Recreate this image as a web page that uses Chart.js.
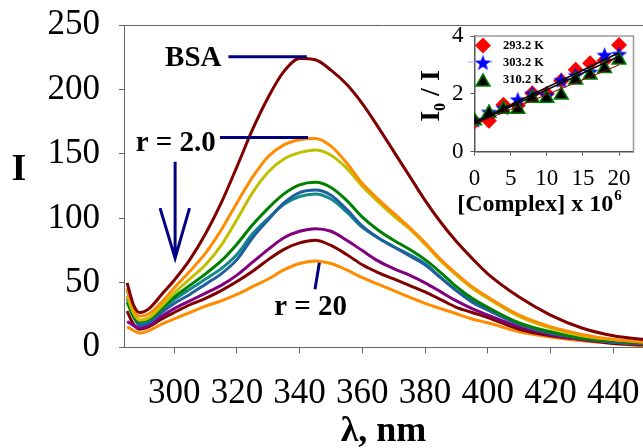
<!DOCTYPE html>
<html>
<head>
<meta charset="utf-8">
<script src="https://cdn.jsdelivr.net/npm/chart.js@4.4.1/dist/chart.umd.min.js"></script>
<style>
html, body { margin: 0; padding: 0; background: #fff; }
#wrap { position: relative; width: 643px; height: 448px; overflow: hidden; }
#main { position: absolute; left: 0; top: 0; }
#inset { position: absolute; left: 400px; top: 16px; }
</style>
</head>
<body>
<div id="wrap">
  <canvas id="main" width="643" height="448"></canvas>
  <canvas id="inset" width="243" height="204"></canvas>
</div>
<script>
// emission spectra, wavelength in nm
var lambda   = [285, 287, 289, 292, 296, 300, 305, 310, 315, 320, 325, 330, 335, 340, 345, 350, 355, 360, 365, 370, 375, 380, 385, 390, 395, 400, 410, 420, 430, 440, 450];
var bsa      = [50, 33, 27, 30, 41, 52, 68, 88, 112, 140, 169, 194, 214, 224, 223, 215, 204, 189, 171, 152, 133, 114, 97, 82, 69, 57, 39, 25, 15, 9, 6];
var r2       = [46, 30, 24, 26, 35, 46, 59, 73, 91, 112, 132, 148, 157, 161, 162, 156, 143, 127, 115, 104, 93, 81, 68, 57, 47, 39, 25, 16, 10, 6, 4];
var rA       = [40, 27, 21, 23, 32, 42, 53, 64, 79, 99, 120, 136, 146, 151, 153, 149, 139, 125, 113, 102, 92, 80, 67, 56, 46, 38, 24, 15, 9, 6, 4];
var rB       = [35, 24, 20, 22, 30, 39, 48, 57, 67, 80, 95, 108, 119, 126, 128, 124, 114, 101, 91, 83, 76, 68, 58, 47, 38, 31, 19, 12, 7, 5, 3];
var rC       = [38, 24, 17, 19, 27, 34, 41, 49, 57, 68, 85, 99, 112, 120, 122, 118, 107, 94, 85, 78, 71, 64, 54, 44, 35, 29, 18, 11, 7, 4, 3];
var rD       = [45, 28, 19, 21, 29, 37, 45, 53, 61, 72, 88, 100, 111, 117, 119, 115, 105, 93, 85, 78, 72, 65, 54, 44, 36, 29, 18, 11, 7, 4, 3];
var rE       = [20, 17, 15, 17, 24, 30, 36, 42, 48, 56, 66, 76, 85, 90, 92, 90, 83, 75, 67, 61, 56, 50, 43, 36, 30, 25, 16, 10, 6, 4, 2];
var rF       = [28, 18, 14, 16, 22, 27, 33, 38, 44, 51, 59, 68, 76, 81, 83, 79, 72, 64, 58, 53, 48, 43, 37, 31, 27, 23, 14, 9, 6, 3, 2];
var r20      = [16, 13, 11, 13, 18, 22, 27, 32, 36, 41, 47, 53, 60, 65, 67, 65, 60, 54, 49, 44, 39, 34, 30, 26, 22, 19, 12, 8, 5, 3, 1];
var xTicks = [300, 320, 340, 360, 380, 400, 420, 440];

// Stern-Volmer inset
var conc  = [0, 2, 4, 6, 8, 10, 12, 14, 16, 18, 20];
var k293  = [1.04, 1.07, 1.62, 1.60, 2.02, 2.00, 2.45, 2.83, 3.06, 3.15, 3.69];
var k303  = [1.10, 1.38, 1.52, 1.81, 2.02, 1.96, 2.48, 2.65, 2.77, 3.35, 3.38];
var k310  = [1.07, 1.33, 1.47, 1.47, 1.85, 1.85, 1.96, 2.48, 2.65, 2.88, 3.17];
var fitX  = [0, 20];
var fit1  = [1.02, 3.42];
var fit2  = [0.98, 3.30];
var fit3  = [0.95, 3.00];
var insetXTicks = [0, 5, 10, 15, 20];

var SERIF = '"Liberation Serif", "Times New Roman", serif';
Chart.defaults.font.family = SERIF;
Chart.defaults.color = '#000';

function pts(xs, ys) {
  return xs.map(function(x, i) { return {x: x, y: ys[i]}; });
}

function spec(data, color) {
  return {
    data: pts(lambda, data),
    borderColor: color,
    borderWidth: 3,
    pointRadius: 0,
    cubicInterpolationMode: 'monotone',
    fill: false
  };
}

// keep chartArea where we put it (no extra label padding)
function noPad(s) { s.paddingTop = 0; s.paddingBottom = 0; s.paddingLeft = 0; s.paddingRight = 0; }

var mainExtras = {
  id: 'mainExtras',
  afterDraw: function(chart) {
    var ctx = chart.ctx, a = chart.chartArea;
    var xs = chart.scales.x, ys = chart.scales.y;
    function px(v) { return xs.getPixelForValue(v); }
    function py(v) { return ys.getPixelForValue(v); }
    ctx.save();
    // top frame line
    ctx.strokeStyle = '#666';
    ctx.lineWidth = 1;
    ctx.beginPath();
    ctx.moveTo(a.left, Math.round(a.top) + 0.5);
    ctx.lineTo(a.right, Math.round(a.top) + 0.5);
    ctx.stroke();

    // labels and pointer lines
    ctx.strokeStyle = '#000080';
    ctx.lineWidth = 3;
    ctx.beginPath();
    ctx.moveTo(px(317.3), py(225.3)); ctx.lineTo(px(342.3), py(225.3));
    ctx.moveTo(px(314.6), py(162.8)); ctx.lineTo(px(342.7), py(162.8));
    ctx.moveTo(px(346.3), py(65.6));  ctx.lineTo(px(344.9), py(45));
    // arrow
    ctx.moveTo(px(300.3), py(143.9)); ctx.lineTo(px(300.3), py(69.2));
    ctx.moveTo(px(295.5), py(108));   ctx.lineTo(px(300.3), py(69.2)); ctx.lineTo(px(304.9), py(108));
    ctx.stroke();

    ctx.fillStyle = '#000';
    ctx.textAlign = 'center';
    ctx.textBaseline = 'middle';
    ctx.font = 'bold 29px ' + SERIF;
    ctx.fillText('BSA', px(306.1), py(224.3));
    ctx.fillText('r = 2.0', px(300.5), py(158.4));
    ctx.fillText('r = 20', px(343.5), py(31.2));

    // axis titles
    ctx.font = 'bold 38px ' + SERIF;
    ctx.fillText('I', 19, 170);
    ctx.font = 'bold 36px ' + SERIF;
    ctx.fillText('\u03bb, nm', (a.left + a.right) / 2, 432);
    ctx.restore();
  }
};

new Chart(document.getElementById('main'), {
  type: 'line',
  data: {
    datasets: [
      spec(bsa, '#800000'),
      spec(r2, '#FF8C00'),
      spec(rA, '#C0C000'),
      spec(rB, '#008000'),
      spec(rC, '#1F5F9F'),
      spec(rD, '#138A8A'),
      spec(rE, '#800080'),
      spec(rF, '#800000'),
      spec(r20, '#FF8C00')
    ]
  },
  options: {
    responsive: false,
    animation: false,
    layout: { padding: { top: 25, right: 0, left: 0, bottom: 0 } },
    plugins: { legend: { display: false }, tooltip: { enabled: false } },
    scales: {
      x: {
        type: 'linear',
        min: 284,
        max: 449.5,
        afterBuildTicks: function(s) { s.ticks = xTicks.map(function(v) { return {value: v}; }); },
        afterFit: function(s) { s.height = 100.7; noPad(s); },
        border: { display: true, color: '#666', width: 1 },
        grid: { drawOnChartArea: false, drawTicks: true, tickLength: 6, color: '#666' },
        ticks: { font: { family: SERIF, size: 35 }, color: '#000', padding: 20, maxRotation: 0, autoSkip: false }
      },
      y: {
        min: 0,
        max: 250,
        afterFit: function(s) { s.width = 124; noPad(s); },
        border: { display: true, color: '#666', width: 1 },
        grid: { drawOnChartArea: false, drawTicks: true, tickLength: 5, color: '#666' },
        ticks: { stepSize: 50, font: { family: SERIF, size: 35 }, color: '#000', padding: 19 }
      }
    }
  },
  plugins: [mainExtras]
});

// blue filled star for the 303.2 K series
function makeStar(size, color) {
  var c = document.createElement('canvas');
  c.width = size; c.height = size;
  var g = c.getContext('2d');
  var cx = size / 2, cy = size / 2 + 0.8, ro = size / 2, ri = ro * 0.42;
  g.beginPath();
  for (var i = 0; i < 10; i++) {
    var r = i % 2 ? ri : ro;
    var ang = -Math.PI / 2 + i * Math.PI / 5;
    var x = cx + r * Math.cos(ang), y = cy + r * Math.sin(ang);
    if (i === 0) g.moveTo(x, y); else g.lineTo(x, y);
  }
  g.closePath();
  g.fillStyle = color;
  g.fill();
  return c;
}
var star = makeStar(17, '#0000FF');

var insetExtras = {
  id: 'insetExtras',
  beforeDatasetsDraw: function(chart) {
    var ctx = chart.ctx, a = chart.chartArea;
    ctx.save();
    ctx.strokeStyle = '#999';
    ctx.lineWidth = 1.5;
    ctx.beginPath();
    ctx.moveTo(a.left, a.top); ctx.lineTo(a.right, a.top); ctx.lineTo(a.right, a.bottom);
    ctx.stroke();
    ctx.restore();
  },
  afterDraw: function(chart) {
    var ctx = chart.ctx, a = chart.chartArea;
    ctx.save();
    // legend
    var mx = a.left + 8.5, tx = a.left + 28.5;
    var rows = [a.top + 9.5, a.top + 26.5, a.top + 45];
    ctx.fillStyle = '#FF0000';
    ctx.beginPath();
    ctx.moveTo(mx - 8, rows[0]); ctx.lineTo(mx, rows[0] - 8); ctx.lineTo(mx + 8, rows[0]); ctx.lineTo(mx, rows[0] + 8);
    ctx.closePath(); ctx.fill();
    ctx.strokeStyle = '#9fa8ff'; ctx.lineWidth = 1;
    ctx.beginPath(); ctx.moveTo(mx - 15, rows[1] - 0.5); ctx.lineTo(mx + 10, rows[1] - 0.5); ctx.stroke();
    ctx.drawImage(star, mx - 8.5, rows[1] - 8.5);
    ctx.fillStyle = '#000'; ctx.strokeStyle = '#008000'; ctx.lineWidth = 1.5;
    ctx.beginPath();
    ctx.moveTo(mx, rows[2] - 7); ctx.lineTo(mx + 7, rows[2] + 5); ctx.lineTo(mx - 7, rows[2] + 5);
    ctx.closePath(); ctx.fill(); ctx.stroke();

    ctx.fillStyle = '#000';
    ctx.font = 'bold 12.5px ' + SERIF;
    ctx.textAlign = 'left';
    ctx.textBaseline = 'middle';
    ctx.fillText('293.2 K', tx, rows[0]);
    ctx.fillText('303.2 K', tx, rows[1]);
    ctx.fillText('310.2 K', tx, rows[2] - 1);

    // x title with superscript
    ctx.font = 'bold 24px ' + SERIF;
    var main = '[Complex] x 10';
    var w1 = ctx.measureText(main).width;
    ctx.font = 'bold 15px ' + SERIF;
    var w2 = ctx.measureText('6').width;
    var sx = 139 - (w1 + w2) / 2;
    ctx.textBaseline = 'alphabetic';
    ctx.font = 'bold 24px ' + SERIF;
    ctx.fillText(main, sx, 195);
    ctx.font = 'bold 15px ' + SERIF;
    ctx.fillText('6', sx + w1 + 1, 184);

    // y title, rotated, with subscript
    ctx.translate(30, 80);
    ctx.rotate(-Math.PI / 2);
    ctx.font = 'bold 28px ' + SERIF;
    var wa = ctx.measureText('I').width;
    var wc = ctx.measureText(' / I').width;
    ctx.font = 'bold 16px ' + SERIF;
    var wb = ctx.measureText('0').width;
    var sx2 = -(wa + wb + wc) / 2;
    ctx.font = 'bold 28px ' + SERIF;
    ctx.fillText('I', sx2, 9);
    ctx.fillText(' / I', sx2 + wa + wb, 9);
    ctx.font = 'bold 16px ' + SERIF;
    ctx.fillText('0', sx2 + wa, 15);
    ctx.restore();
  }
};

function fitLine(ys, color, width) {
  return {
    type: 'line',
    data: pts(fitX, ys),
    borderColor: color,
    borderWidth: width,
    pointRadius: 0,
    fill: false
  };
}

new Chart(document.getElementById('inset'), {
  type: 'scatter',
  data: {
    datasets: [
      fitLine(fit1, '#000000', 1.5),
      fitLine(fit2, '#000000', 1.5),
      fitLine(fit3, '#8B0000', 1),
      { data: pts(conc, k310), pointStyle: 'triangle', pointRadius: 8, backgroundColor: '#000000', borderColor: '#008000', borderWidth: 1.5 },
      { data: pts(conc, k303), pointStyle: star, pointRadius: 8 },
      { data: pts(conc, k293), pointStyle: 'rectRot', pointRadius: 8, backgroundColor: '#FF0000', borderColor: '#FF0000', borderWidth: 0 }
    ]
  },
  options: {
    responsive: false,
    animation: false,
    layout: { padding: { top: 20, right: 8, left: 0, bottom: 0 } },
    plugins: { legend: { display: false }, tooltip: { enabled: false } },
    scales: {
      x: {
        type: 'linear',
        min: 0,
        max: 22,
        afterBuildTicks: function(s) { s.ticks = insetXTicks.map(function(v) { return {value: v}; }); },
        afterFit: function(s) { s.height = 68.3; noPad(s); },
        border: { display: true, color: '#555', width: 1.5 },
        grid: { drawOnChartArea: false, drawTicks: true, tickLength: 4, color: '#555' },
        ticks: { font: { family: SERIF, size: 23 }, color: '#000', padding: 9, maxRotation: 0, autoSkip: false }
      },
      y: {
        min: 0,
        max: 4,
        afterFit: function(s) { s.width = 74.5; noPad(s); },
        border: { display: true, color: '#555', width: 1.5 },
        grid: { drawOnChartArea: false, drawTicks: true, tickLength: 4, color: '#555' },
        ticks: { stepSize: 1, font: { family: SERIF, size: 23 }, color: '#000', padding: 7 }
      }
    }
  },
  plugins: [insetExtras]
});
</script>
</body>
</html>
